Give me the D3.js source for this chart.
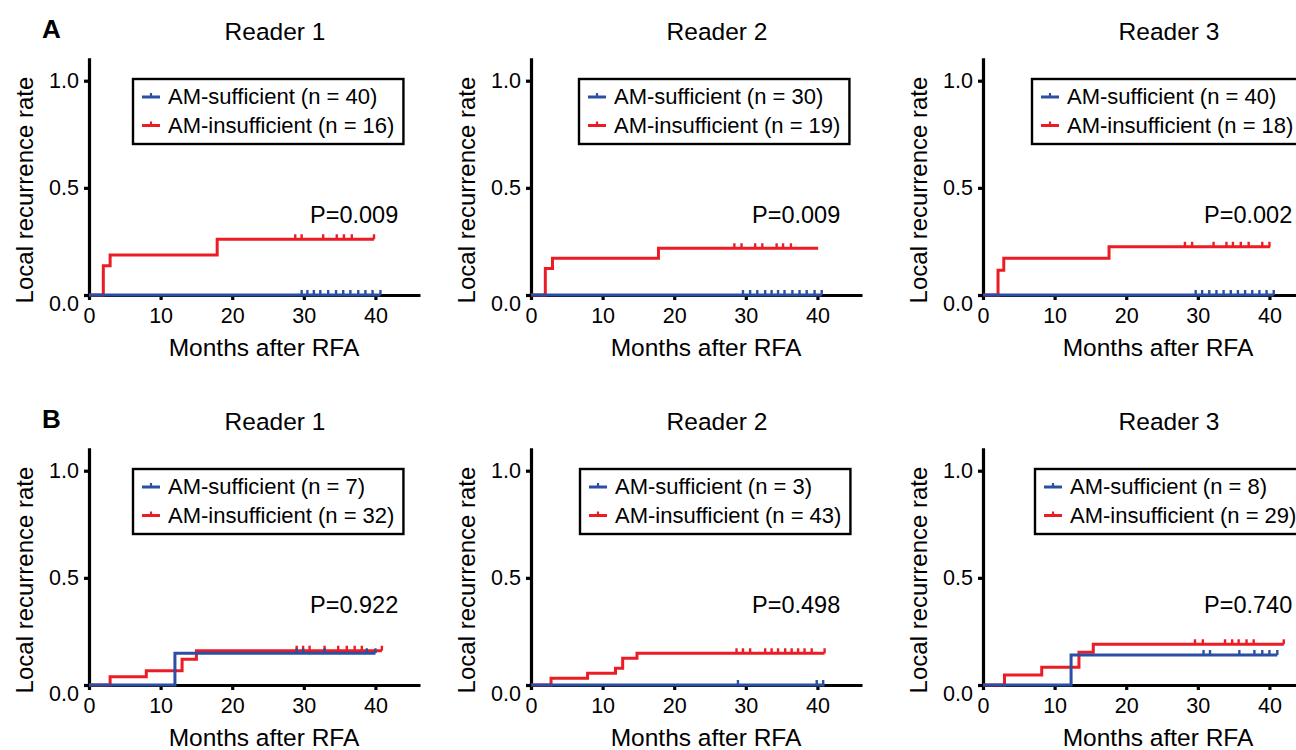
<!DOCTYPE html>
<html>
<head>
<meta charset="utf-8">
<script src="https://cdn.jsdelivr.net/npm/d3@7"></script>
<style>
  body { margin: 0; background: #fff; }
  svg { font-family: "Liberation Sans", Arial, sans-serif; }
</style>
</head>
<body>
<script>
// chart values, one entry per panel: A1 A2 A3 B1 B2 B3
const rowLabels = ['A', 'B'];
const readers = ['Reader 1', 'Reader 2', 'Reader 3'];
const xTicks = [0, 10, 20, 30, 40];
const yTicks = [0, 0.5, 1.0];
const pValues = ['0.009', '0.009', '0.002', '0.922', '0.498', '0.740'];
const nSufficient = [40, 30, 40, 7, 3, 8];
const nInsufficient = [16, 19, 18, 32, 43, 29];

// step curves [month, rate]
const insuffSteps = [
  [[0, 0], [2, 0.137], [2.95, 0.187], [17.9, 0.26]],
  [[0, 0], [2, 0.124], [3, 0.171], [17.8, 0.218]],
  [[0, 0], [2.1, 0.115], [2.9, 0.171], [17.6, 0.225]],
  [[0, 0], [2.95, 0.039], [8, 0.067], [13, 0.12], [15, 0.16]],
  [[0, 0], [2.8, 0.031], [7.9, 0.055], [11.8, 0.078], [12.8, 0.125], [14.8, 0.148]],
  [[0, 0], [3, 0.047], [8.2, 0.083], [13.4, 0.153], [15.4, 0.19]]
];
const insuffEnd = [39.8, 40.1, 40.1, 40.9, 41, 42];
const insuffCensor = [
  [28.8, 29.7, 32.7, 34.6, 35.6, 36.7, 39.8],
  [28.4, 29.4, 31.3, 32.3, 34.3, 35.2, 36.3],
  [28.2, 29.2, 32.2, 34.0, 34.9, 36.0, 37.1, 39.0, 40.0],
  [29.0, 29.9, 30.8, 32.9, 34.8, 36.0, 37.1, 38.1, 40.9],
  [28.7, 29.6, 30.6, 32.7, 33.6, 34.5, 35.5, 36.4, 37.3, 38.2, 39.2, 41.0],
  [29.6, 30.7, 33.8, 34.8, 35.7, 36.8, 37.8, 42.0]
];
const suffSteps = [
  [[0, 0]],
  [[0, 0]],
  [[0, 0]],
  [[0, 0], [12, 0.148]],
  [[0, 0]],
  [[0, 0], [12.3, 0.14]]
];
const suffEnd = [40.7, 40.6, 40.6, 40, 41, 41.1];
const suffCensor = [
  [29.7, 30.5, 31.4, 32.3, 33.4, 34.5, 35.5, 36.5, 37.6, 38.6, 39.6, 40.7],
  [29.6, 30.6, 31.6, 32.7, 33.6, 34.5, 35.4, 36.5, 37.5, 38.5, 39.6, 40.6],
  [29.7, 30.6, 31.6, 32.6, 33.6, 34.6, 35.6, 36.6, 37.6, 38.6, 39.6, 40.6],
  [29.0, 29.9, 32.9, 38.8, 40],
  [28.9, 39.9, 40.8],
  [30.8, 31.7, 35.8, 37.9, 39.0, 40.0, 41.1]
];

// layout
const W = 1296, H = 750;
const axisX = [89, 531, 983];
const rowY = [0, 390];
const legendDx = [44, 48, 49, 44, 49, 52];
const red = '#ec1c24', blue = '#2a4fa3';

const svg = d3.select('body').append('svg')
  .attr('width', W).attr('height', H);

rowLabels.forEach((lab, r) => {
  svg.append('text')
    .attr('x', 42).attr('y', rowY[r] + 38)
    .style('font-size', '26px').style('font-weight', 'bold')
    .text(lab);
});

var valueAt = function(steps, t) {
  var v = 0;
  steps.forEach(s => { if (s[0] <= t) v = s[1]; });
  return v;
};

for (let r = 0; r < 2; r++) {
  for (let c = 0; c < 3; c++) {
    const i = r * 3 + c;
    const x0 = axisX[c], oy = rowY[r];
    const x = d3.scaleLinear().domain([0, 46]).range([x0, x0 + 329.4]);
    const y = d3.scaleLinear().domain([0, 1.1]).range([oy + 295, oy + 295 - 214.3 * 1.1]);
    const g = svg.append('g');

    // title
    g.append('text')
      .attr('x', x0 + 186).attr('y', oy + 39.5)
      .attr('text-anchor', 'middle')
      .style('font-size', '24.5px')
      .text(readers[c]);

    // curves
    var line = d3.line().curve(d3.curveStepAfter).x(d => x(d[0])).y(d => y(d[1]));
    var drawCurve = function(steps, end, censor, color) {
      var pts = steps.concat([[end, steps[steps.length - 1][1]]]);
      g.append('path')
        .attr('d', line(pts))
        .attr('fill', 'none')
        .attr('stroke', color)
        .attr('stroke-width', 3);
      g.selectAll(null)
        .data(censor)
        .enter()
        .append('line')
        .attr('x1', d => x(d)).attr('x2', d => x(d))
        .attr('y1', d => y(valueAt(steps, d)))
        .attr('y2', d => y(valueAt(steps, d)) - 5)
        .attr('stroke', color)
        .attr('stroke-width', 2.4);
    };

    // axes
    var xAxis = g.append('g')
      .attr('transform', 'translate(0,' + (oy + 295) + ')')
      .call(d3.axisBottom(x).tickValues(xTicks).tickSize(5).tickSizeOuter(0).tickPadding(8));
    var yAxis = g.append('g')
      .attr('transform', 'translate(' + x0 + ',0)')
      .call(d3.axisLeft(y).tickValues(yTicks).tickFormat(d3.format('.1f')).tickSize(5).tickSizeOuter(0).tickPadding(5));
    [xAxis, yAxis].forEach(a => {
      a.select('.domain').attr('stroke', '#000').attr('stroke-width', 3.2).attr('stroke-linecap', 'square');
      a.selectAll('.tick line').attr('stroke', '#000').attr('stroke-width', 3.2);
      a.selectAll('.tick text').style('font-size', '21.5px').attr('fill', '#000').style('font-family', 'inherit');
    });
    yAxis.selectAll('.tick text').filter(d => d === 0).attr('dy', '0.7em');

    drawCurve(insuffSteps[i], insuffEnd[i], insuffCensor[i], red);
    drawCurve(suffSteps[i], suffEnd[i], suffCensor[i], blue);

    // axis titles
    g.append('text')
      .attr('x', x0 + 175).attr('y', oy + 356)
      .attr('text-anchor', 'middle')
      .style('font-size', '24.5px')
      .text('Months after RFA');
    g.append('text')
      .attr('transform', 'translate(' + (x0 - 56) + ',' + (oy + 190) + ') rotate(-90)')
      .attr('text-anchor', 'middle')
      .style('font-size', '24px')
      .text('Local recurrence rate');

    // p value
    g.append('text')
      .attr('x', x0 + 221).attr('y', oy + 223)
      .style('font-size', '23.5px')
      .text('P=' + pValues[i]);

    // legend
    var lx = x0 + legendDx[i], ly = oy + 79;
    var leg = g.append('g');
    var box = leg.append('rect')
      .attr('x', lx).attr('y', ly).attr('height', 65)
      .attr('fill', '#fff').attr('stroke', '#000').attr('stroke-width', 2.4);
    var items = [
      {label: 'AM-sufficient (n = ' + nSufficient[i] + ')', color: blue},
      {label: 'AM-insufficient (n = ' + nInsufficient[i] + ')', color: red}
    ];
    var maxW = 0;
    items.forEach((it, k) => {
      var yy = ly + 18 + k * 28.5;
      leg.append('line')
        .attr('x1', lx + 9).attr('x2', lx + 27)
        .attr('y1', yy).attr('y2', yy)
        .attr('stroke', it.color).attr('stroke-width', 3);
      leg.append('line')
        .attr('x1', lx + 18).attr('x2', lx + 18)
        .attr('y1', yy).attr('y2', yy - 4)
        .attr('stroke', it.color).attr('stroke-width', 2.2);
      var t = leg.append('text')
        .attr('x', lx + 35).attr('y', yy + 7)
        .style('font-size', '22px')
        .text(it.label);
      maxW = Math.max(maxW, t.node().getComputedTextLength());
    });
    box.attr('width', maxW + 44);
  }
}
</script>
</body>
</html>
